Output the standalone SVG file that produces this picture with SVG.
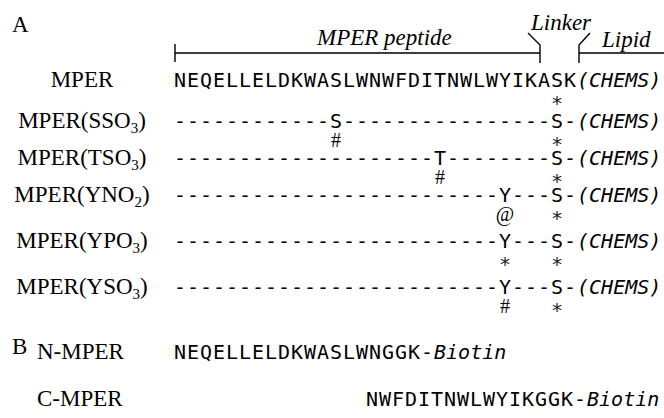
<svg xmlns="http://www.w3.org/2000/svg" width="664" height="418" viewBox="0 0 664 418">
  <style>
    .lbl { font-family: "Liberation Serif", "Times New Roman", serif; font-size: 23px; fill: #000; }
    .lbl-c { text-anchor: middle; }
    .sub { font-size: 15px; }
    .seq { font-family: "DejaVu Sans Mono", monospace; font-size: 20px; letter-spacing: 0.96px; fill: #000; }
    .it { font-style: italic; letter-spacing: 0; }
    .ann { font-family: "Liberation Serif", "Times New Roman", serif; font-style: italic; font-size: 23px; fill: #000; }
    .mk { font-family: "Liberation Serif", "Times New Roman", serif; font-size: 20px; text-anchor: middle; fill: #000; }
    .ast { font-family: "DejaVu Sans Mono", monospace; font-size: 20px; text-anchor: middle; fill: #222; }
    .br { fill: none; stroke: #000; stroke-width: 1.4; }
  </style>

  <!-- panel letters -->
  <text class="lbl" x="12" y="32">A</text>
  <text class="lbl" x="12" y="354">B</text>

  <!-- region brackets above the sequence -->
  <g id="connectors">
    <path class="br" d="M175,44 V62 M175,53 H540"/>
    <path class="br" d="M528,33 L540,45 V63"/>
    <path class="br" d="M590,33 L579,45 V63 M579,53 H664"/>
  </g>
  <g id="region-labels">
    <text class="ann" x="317" y="45">MPER peptide</text>
    <text class="ann" x="531" y="30">Linker</text>
    <text class="ann" x="602" y="47">Lipid</text>
  </g>

  <!-- panel A rows -->
  <g id="row-mper">
    <text class="lbl lbl-c" x="82" y="87">MPER</text>
    <text class="seq" x="174" y="87">NEQELLELDKWASLWNWFDITNWLWYIKASK<tspan class="it">(CHEMS)</tspan></text>
    <text class="ast" x="557" y="110">*</text>
  </g>

  <g id="row-sso3">
    <text class="lbl lbl-c" x="82" y="128">MPER(SSO<tspan class="sub" dy="5">3</tspan><tspan dy="-5">)</tspan></text>
    <text class="seq" x="174" y="128">------------S----------------S-<tspan class="it">(CHEMS)</tspan></text>
    <text class="mk" x="336" y="147">#</text>
    <text class="ast" x="557" y="151">*</text>
  </g>

  <g id="row-tso3">
    <text class="lbl lbl-c" x="82" y="165">MPER(TSO<tspan class="sub" dy="5">3</tspan><tspan dy="-5">)</tspan></text>
    <text class="seq" x="174" y="165">--------------------T--------S-<tspan class="it">(CHEMS)</tspan></text>
    <text class="mk" x="440" y="184">#</text>
    <text class="ast" x="557" y="188">*</text>
  </g>

  <g id="row-yno2">
    <text class="lbl lbl-c" x="82" y="202">MPER(YNO<tspan class="sub" dy="5">2</tspan><tspan dy="-5">)</tspan></text>
    <text class="seq" x="174" y="202">-------------------------Y---S-<tspan class="it">(CHEMS)</tspan></text>
    <text class="mk" x="505" y="221">@</text>
    <text class="ast" x="557" y="225">*</text>
  </g>

  <g id="row-ypo3">
    <text class="lbl lbl-c" x="82" y="248">MPER(YPO<tspan class="sub" dy="5">3</tspan><tspan dy="-5">)</tspan></text>
    <text class="seq" x="174" y="248">-------------------------Y---S-<tspan class="it">(CHEMS)</tspan></text>
    <text class="ast" x="505" y="271">*</text>
    <text class="ast" x="557" y="271">*</text>
  </g>

  <g id="row-yso3">
    <text class="lbl lbl-c" x="82" y="294">MPER(YSO<tspan class="sub" dy="5">3</tspan><tspan dy="-5">)</tspan></text>
    <text class="seq" x="174" y="294">-------------------------Y---S-<tspan class="it">(CHEMS)</tspan></text>
    <text class="mk" x="505" y="313">#</text>
    <text class="ast" x="557" y="317">*</text>
  </g>

  <!-- panel B rows -->
  <g id="row-n-mper">
    <text class="lbl" x="37" y="359">N-MPER</text>
    <text class="seq" x="174" y="359">NEQELLELDKWASLWNGGK-<tspan class="it">Biotin</tspan></text>
  </g>

  <g id="row-c-mper">
    <text class="lbl" x="37" y="406">C-MPER</text>
    <text class="seq" x="366" y="406">NWFDITNWLWYIKGGK-<tspan class="it">Biotin</tspan></text>
  </g>
</svg>
